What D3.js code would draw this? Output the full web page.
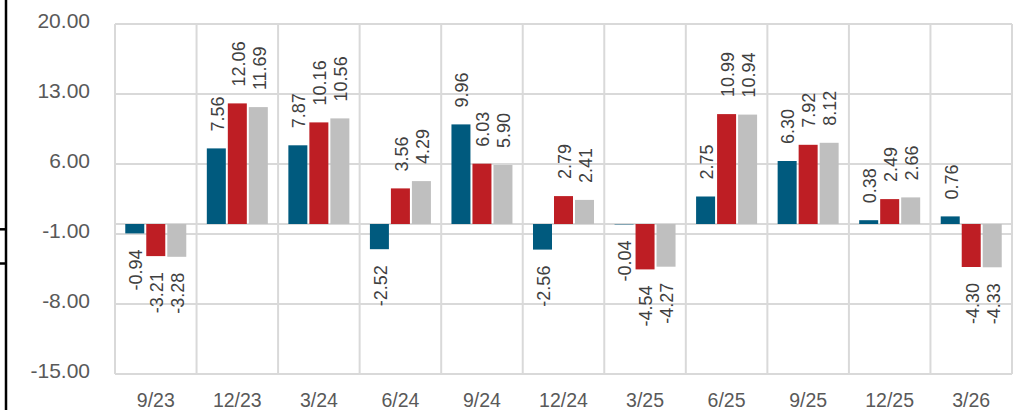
<!DOCTYPE html>
<html>
<head>
<meta charset="utf-8">
<script src="https://cdn.jsdelivr.net/npm/d3@7"></script>
<style>
  html, body { margin: 0; padding: 0; background: #ffffff; }
  svg { display: block; }
</style>
</head>
<body>
<svg id="chart" width="1022" height="410"></svg>
<script>
const categories = ["9/23","12/23","3/24","6/24","9/24","12/24","3/25","6/25","9/25","12/25","3/26"];
const seriesA = [-0.94, 7.56, 7.87, -2.52, 9.96, -2.56, -0.04, 2.75, 6.30, 0.38, 0.76];
const seriesB = [-3.21, 12.06, 10.16, 3.56, 6.03, 2.79, -4.54, 10.99, 7.92, 2.49, -4.30];
const seriesC = [-3.28, 11.69, 10.56, 4.29, 5.90, 2.41, -4.27, 10.94, 8.12, 2.66, -4.33];
const yTicks = [20, 13, 6, -1, -8, -15];

(function () {
const seriesList = [seriesA, seriesB, seriesC];
const colors = ["#005a7e", "#be1e24", "#bfbfbf"];
const fmt = v => v.toFixed(2);

const svg = d3.select("#chart");
const pLeft = 115, pRight = 1012, pTop = 24, pBottom = 374;

const x = d3.scaleBand().domain(categories).range([pLeft, pRight]).padding(0);
const y = d3.scaleLinear().domain([-15, 20]).range([pBottom, pTop]);
const slot = 21, barW = 19, groupW = slot * 3;

const grid = "#d9d9d9";

// decorative page lines on the left
svg.append("line").attr("x1", 6).attr("x2", 6).attr("y1", 0).attr("y2", 410)
  .attr("stroke", "#000").attr("stroke-width", 2.5);
svg.append("line").attr("x1", 0).attr("x2", 6).attr("y1", 229.3).attr("y2", 229.3)
  .attr("stroke", "#000").attr("stroke-width", 2.5);
svg.append("line").attr("x1", 0).attr("x2", 6).attr("y1", 263.5).attr("y2", 263.5)
  .attr("stroke", "#000").attr("stroke-width", 2.5);

// horizontal gridlines
svg.append("g").selectAll("line").data(yTicks).join("line")
  .attr("x1", pLeft).attr("x2", pRight)
  .attr("y1", d => y(d)).attr("y2", d => y(d))
  .attr("stroke", grid).attr("stroke-width", 2);
// zero line
svg.append("line").attr("x1", pLeft).attr("x2", pRight)
  .attr("y1", y(0)).attr("y2", y(0)).attr("stroke", grid).attr("stroke-width", 2);
// vertical gridlines
const vb = categories.map(c => x(c)).concat([pRight]);
svg.append("g").selectAll("line").data(vb).join("line")
  .attr("x1", d => d).attr("x2", d => d)
  .attr("y1", pTop).attr("y2", pBottom)
  .attr("stroke", grid).attr("stroke-width", 2);

// y tick labels
svg.append("g").selectAll("text").data(yTicks).join("text")
  .attr("x", 90).attr("y", d => y(d) - 3).attr("dy", "0.35em")
  .attr("text-anchor", "end")
  .attr("font-family", "Liberation Sans, Arial, sans-serif")
  .attr("font-size", 21).attr("fill", "#595959")
  .text(d => fmt(d));

// category labels
svg.append("g").selectAll("text").data(categories).join("text")
  .attr("x", d => x(d) + x.bandwidth() / 2).attr("y", 407)
  .attr("text-anchor", "middle")
  .attr("font-family", "Liberation Sans, Arial, sans-serif")
  .attr("font-size", 19.5).attr("fill", "#595959")
  .text(d => d);

// bars + labels
seriesList.forEach((vals, si) => {
  const g = svg.append("g");
  const cx = (c) => x(c) + (x.bandwidth() - groupW) / 2 + si * slot + (slot - barW) / 2;
  g.selectAll("rect").data(categories).join("rect")
    .attr("x", c => cx(c))
    .attr("width", barW)
    .attr("y", (c, i) => Math.min(y(vals[i]), y(0)))
    .attr("height", (c, i) => Math.abs(y(vals[i]) - y(0)))
    .attr("fill", colors[si]);
  g.selectAll("text").data(categories).join("text")
    .attr("transform", (c, i) => {
      const v = vals[i];
      const px = cx(c) + barW / 2 + 1;
      const py = v >= 0 ? y(v) - 17 : y(v) + 16;
      return `translate(${px},${py}) rotate(-90)`;
    })
    .attr("dy", "0.35em")
    .attr("text-anchor", (c, i) => vals[i] >= 0 ? "start" : "end")
    .attr("font-family", "Liberation Sans, Arial, sans-serif")
    .attr("font-size", 18).attr("fill", "#404040")
    .text((c, i) => fmt(vals[i]));
});
})();
</script>
</body>
</html>
